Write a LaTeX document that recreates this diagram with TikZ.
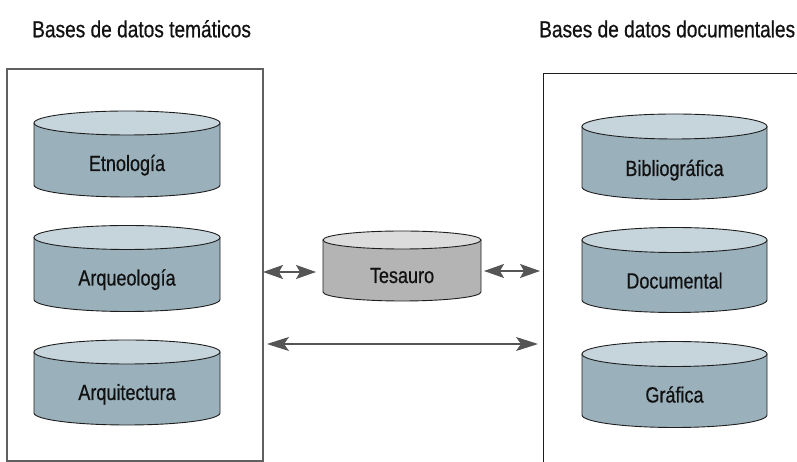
\documentclass[tikz,border=0pt]{standalone}
\usepackage{fontspec}
\setmainfont{Liberation Sans}[FakeStretch=0.82,FakeBold=0.6]
\usetikzlibrary{arrows.meta}
\definecolor{cDbBody}{HTML}{9AB0BB}
\definecolor{cDbTop}{HTML}{C6D4DB}
\definecolor{cThBody}{HTML}{B4B4B4}
\definecolor{cThTop}{HTML}{DCDCDC}
\definecolor{cEdge}{HTML}{1E1E1E}
\definecolor{cArrow}{HTML}{555555}
\definecolor{cLeftBox}{HTML}{606060}
\definecolor{cText}{HTML}{111111}
\tikzset{
  dbbodyst/.style={fill=cDbBody, draw=cEdge, line width=0.9pt},
  dbtopst/.style={fill=cDbTop, draw=cEdge, line width=0.9pt},
  thbodyst/.style={fill=cThBody, draw=cEdge, line width=0.9pt},
  thtopst/.style={fill=cThTop, draw=cEdge, line width=0.9pt},
  titletext/.style={inner sep=0pt, anchor=base west, text=cText, font=\fontsize{23.3}{28}\selectfont},
  dblabel/.style={inner sep=0pt, anchor=base, text=cText, font=\fontsize{22}{26}\selectfont},
  leftboxst/.style={draw=cLeftBox, line width=1.2pt, inner sep=0pt, outer sep=0pt},
  rightboxst/.style={draw=cEdge, line width=1pt},
  shortarrow/.style={draw=cArrow, line width=1.1pt,
    {Stealth[length=20pt,width=14pt,inset=4pt]}-{Stealth[length=20pt,width=14pt,inset=4pt]}},
  longarrow/.style={draw=cArrow, line width=1.1pt,
    {Stealth[length=22pt,width=14pt,inset=5pt]}-{Stealth[length=22pt,width=14pt,inset=5pt]}}
}
% #1 cx, #2 top-centre y (px, downwards), #3 bottom-centre y (px), #4 rx, #5 ry, #6 style prefix
\newcommand\cylshape[6]{%
  \filldraw[#6bodyst] (#1-#4,462-#2) -- (#1-#4,462-#3)
    arc[start angle=180,end angle=360,x radius=#4pt,y radius=#5pt]
    -- (#1+#4,462-#2) -- cycle;
  \filldraw[#6topst] (#1,462-#2) ellipse[x radius=#4pt,y radius=#5pt];
}
\begin{document}
\begin{tikzpicture}[x=1pt,y=1pt]
\useasboundingbox (0,0) rectangle (797,462);

% titles
\node[titletext] (t1) at (32,424.7) {Bases de datos temáticos};
\node[titletext] (t2) at (539,424.7) {Bases de datos documentales};

% left box
\node[leftboxst, minimum width=256pt, minimum height=392pt] (lb) at (135,197) {};
% right box (open at right and bottom)
\coordinate (rbtop) at (797,388);
\coordinate (rbcorner) at (543,388);
\coordinate (rbbottom) at (543,0);
\draw[rightboxst] (rbtop) -- (rbcorner) -- (rbbottom);

% left cylinders
\cylshape{127}{123}{185}{93}{12}{db}
\node[dblabel] (etno) at (127,462-171) {Etnología};
\cylshape{127}{237.5}{299.5}{93}{12}{db}
\node[dblabel] (arqueo) at (127,462-285.5) {Arqueología};
\cylshape{127}{352}{413}{93}{12}{db}
\node[dblabel] (arqui) at (127,462-400) {Arquitectura};

% right cylinders
\cylshape{674.5}{126.5}{187}{92.5}{12.5}{db}
\node[dblabel] (biblio) at (674.5,462-176) {Bibliográfica};
\cylshape{674.5}{240}{300}{92.5}{12.5}{db}
\node[dblabel] (docu) at (674.5,462-288.5) {Documental};
\cylshape{674.5}{354}{415}{92.5}{12.5}{db}
\node[dblabel] (graf) at (674.5,462-402.5) {Gráfica};

% thesaurus
\cylshape{402}{240}{292}{79}{9}{th}
\node[dblabel] (tes) at (402,462-283) {Tesauro};

% connectors
\coordinate (tesL) at (316,190);
\coordinate (tesR) at (484,191);
\coordinate (rbA) at (540,191);
\coordinate (rbB) at (538,118);
\draw[shortarrow] (lb.east |- tesL) -- (tesL);
\draw[shortarrow] (tesR) -- (rbA);
\draw[longarrow] ([xshift=4pt]lb.east |- rbB) -- (rbB);
\end{tikzpicture}
\end{document}
